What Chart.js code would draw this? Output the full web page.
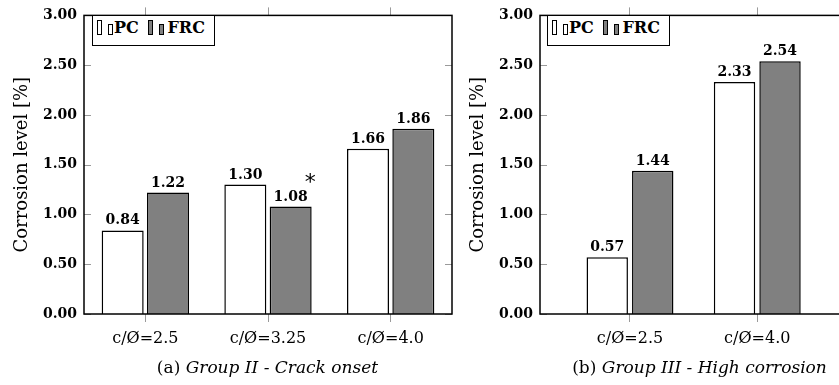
<!DOCTYPE html>
<html><head><meta charset="utf-8">
<script src="https://cdn.jsdelivr.net/npm/chart.js@4/dist/chart.umd.min.js"></script>
<style>
html,body{margin:0;padding:0;background:#fff;}
#wrap{position:relative;width:839px;height:385px;overflow:hidden;background:#fff;}
canvas{position:absolute;top:0;}
.legend{position:absolute;top:14.5px;width:123px;height:31.5px;box-sizing:border-box;border:1.3px solid #000;background:#fff;}
.legend .ic{position:absolute;box-sizing:border-box;border:1.2px solid #000;width:5px;}
.legend .ic.pc{background:#fff;}
.legend .ic.frc{background:#808080;}
.legend .tx{position:absolute;top:2px;font:bold 16px 'DejaVu Serif';color:#000;line-height:20px;}
.cap{position:absolute;top:357px;font:17px 'DejaVu Serif';line-height:20px;color:#000;white-space:nowrap;transform:translateX(-50%);}
.cap i{font-style:italic;}
</style></head>
<body>
<div id="wrap">
  <canvas id="c1" width="456" height="385" style="left:0;width:456px;height:385px"></canvas>
  <canvas id="c2" width="395" height="385" style="left:456px;width:395px;height:385px"></canvas>
  <div class="legend" style="left:91.5px">
    <span class="ic pc" style="left:4.5px;top:4.5px;height:15px"></span>
    <span class="ic pc" style="left:15.5px;top:8px;height:11.5px"></span>
    <span class="tx" style="left:21.5px">PC</span>
    <span class="ic frc" style="left:55px;top:4.5px;height:15px"></span>
    <span class="ic frc" style="left:66.5px;top:8px;height:11.5px"></span>
    <span class="tx" style="left:75px">FRC</span>
  </div>
  <div class="legend" style="left:546.5px">
    <span class="ic pc" style="left:4.5px;top:4.5px;height:15px"></span>
    <span class="ic pc" style="left:15.5px;top:8px;height:11.5px"></span>
    <span class="tx" style="left:21.5px">PC</span>
    <span class="ic frc" style="left:55px;top:4.5px;height:15px"></span>
    <span class="ic frc" style="left:66.5px;top:8px;height:11.5px"></span>
    <span class="tx" style="left:75px">FRC</span>
  </div>
  <div class="cap" style="left:267.5px">(a) <i>Group II - Crack onset</i></div>
  <div class="cap" style="left:699.5px">(b) <i>Group III - High corrosion</i></div>
</div>
<script>
// ---- data ----
const seriesNames = ['PC', 'FRC'];
const groupIICategories = ['c/Ø=2.5', 'c/Ø=3.25', 'c/Ø=4.0'];
const groupIIPC = [0.84, 1.30, 1.66];
const groupIIFRC = [1.22, 1.08, 1.86];
const groupIIFRCNotes = ['', '*', ''];
const groupIIICategories = ['c/Ø=2.5', 'c/Ø=4.0'];
const groupIIIPC = [0.57, 2.33];
const groupIIIFRC = [1.44, 2.54];
const yAxisTitle = 'Corrosion level [%]';
const yMin = 0, yMax = 3, yStep = 0.5;

// ---- styles ----
const SERIF = "'DejaVu Serif'";
const PC_FILL = '#ffffff', FRC_FILL = '#808080';
const TICK_GRAY = '#9a9a9a';

const framePlugin = {
  id: 'frame',
  afterDatasetsDraw(chart) {
    const {ctx, chartArea: a, scales} = chart;
    const y = scales.y;
    ctx.save();
    ctx.strokeStyle = TICK_GRAY; ctx.lineWidth = 1;
    y.ticks.forEach(t => {
      const py = Math.round(y.getPixelForValue(t.value)) + 0.5;
      ctx.beginPath();
      ctx.moveTo(a.left, py); ctx.lineTo(a.left + 7, py);
      ctx.moveTo(a.right - 7, py); ctx.lineTo(a.right, py);
      ctx.stroke();
    });
    ctx.strokeStyle = '#000'; ctx.lineWidth = 1.5;
    ctx.strokeRect(a.left, a.top, a.right - a.left, a.bottom - a.top);
    // value labels
    ctx.fillStyle = '#000';
    ctx.textAlign = 'center'; ctx.textBaseline = 'alphabetic';
    chart.data.datasets.forEach((ds, di) => {
      const meta = chart.getDatasetMeta(di);
      meta.data.forEach((bar, i) => {
        const v = ds.data[i];
        const val = typeof v === 'object' ? v.y : v;
        const txt = val.toFixed(2);
        ctx.font = 'bold 14px ' + SERIF;
        const by = bar.y - 6;
        ctx.fillText(txt, bar.x, by);
        const note = ds.notes ? ds.notes[i] : '';
        if (note) {
          const w = ctx.measureText(txt).width;
          ctx.font = '22px "DejaVu Sans"';
          ctx.textAlign = 'left';
          ctx.fillText(note, bar.x + w / 2 - 3, by - 12);
          ctx.textAlign = 'center';
        }
      });
    });
    ctx.restore();
  }
};

function yScale() {
  return {
    min: yMin, max: yMax,
    afterFit: s => { s.width = 84; },
    ticks: {
      stepSize: yStep, padding: 7, color: '#000',
      font: {family: SERIF, size: 14, weight: 'bold'},
      callback: v => Number(v).toFixed(2)
    },
    grid: {display: false, drawTicks: false},
    border: {display: false},
    title: {display: true, text: yAxisTitle, color: '#000',
      font: {family: SERIF, size: 18}, padding: {top: 12, bottom: 0}}
  };
}

function baseOpts() {
  return {
    responsive: false, animation: false, devicePixelRatio: 1,
    layout: {padding: {left: 0, right: 4, top: 0, bottom: 0}},
    plugins: {legend: {display: false}, tooltip: {enabled: false}},
  };
}

function barDs(label, data, fill, extra) {
  return Object.assign({
    label, data, backgroundColor: fill, borderColor: '#000', borderWidth: 1.5,
    borderSkipped: 'start', xAxisID: 'x', yAxisID: 'y'
  }, extra || {});
}

const xTickFont = {family: SERIF, size: 16};

// ---- chart (a) ----
const o1 = baseOpts();
o1.scales = {
  x: {
    type: 'category', position: 'bottom', offset: true,
    afterFit: s => { s.height = 71; },
    grid: {display: true, drawOnChartArea: false, drawTicks: true, tickLength: 8, color: TICK_GRAY, offset: false},
    border: {display: false},
    ticks: {color: '#000', font: xTickFont, padding: 7, maxRotation: 0, autoSkip: false}
  },
  xTop: {
    type: 'category', position: 'top', offset: true,
    afterFit: s => { s.height = 8; },
    grid: {display: true, drawOnChartArea: false, drawTicks: true, tickLength: 8, color: TICK_GRAY, offset: false},
    border: {display: false},
    ticks: {display: false}
  },
  y: yScale()
};
o1.datasets = {bar: {categoryPercentage: 0.739, barPercentage: 0.927}};
new Chart(document.getElementById('c1'), {
  type: 'bar',
  data: {
    labels: groupIICategories,
    datasets: [
      barDs(seriesNames[0], groupIIPC, PC_FILL),
      barDs(seriesNames[1], groupIIFRC, FRC_FILL, {notes: groupIIFRCNotes})
    ]
  },
  options: o1,
  plugins: [framePlugin]
});

// ---- chart (b) ----
const xLo = -0.707, xHi = 1.705;
const o2 = baseOpts();
o2.scales = {
  x: {
    type: 'linear', position: 'bottom', min: xLo, max: xHi, offset: false,
    afterFit: s => { s.height = 71; },
    grid: {display: true, drawOnChartArea: false, drawTicks: true, tickLength: 8, color: TICK_GRAY, offset: false},
    border: {display: false},
    ticks: {stepSize: 1, includeBounds: false, color: '#000', font: xTickFont, padding: 7,
      maxRotation: 0, autoSkip: false,
      callback: v => (Number.isInteger(v) && groupIIICategories[v] !== undefined) ? groupIIICategories[v] : ''}
  },
  xTop: {
    type: 'linear', position: 'top', min: xLo, max: xHi, offset: false,
    afterFit: s => { s.height = 8; },
    grid: {display: true, drawOnChartArea: false, drawTicks: true, tickLength: 8, color: TICK_GRAY, offset: false},
    border: {display: false},
    ticks: {display: false, stepSize: 1, includeBounds: false}
  },
  y: yScale()
};
o2.datasets = {bar: {categoryPercentage: 0.715, barPercentage: 0.91}};
new Chart(document.getElementById('c2'), {
  type: 'bar',
  data: {
    datasets: [
      barDs(seriesNames[0], groupIIIPC.map((v, i) => ({x: i, y: v})), PC_FILL),
      barDs(seriesNames[1], groupIIIFRC.map((v, i) => ({x: i, y: v})), FRC_FILL)
    ]
  },
  options: o2,
  plugins: [framePlugin]
});
</script>
</body></html>
